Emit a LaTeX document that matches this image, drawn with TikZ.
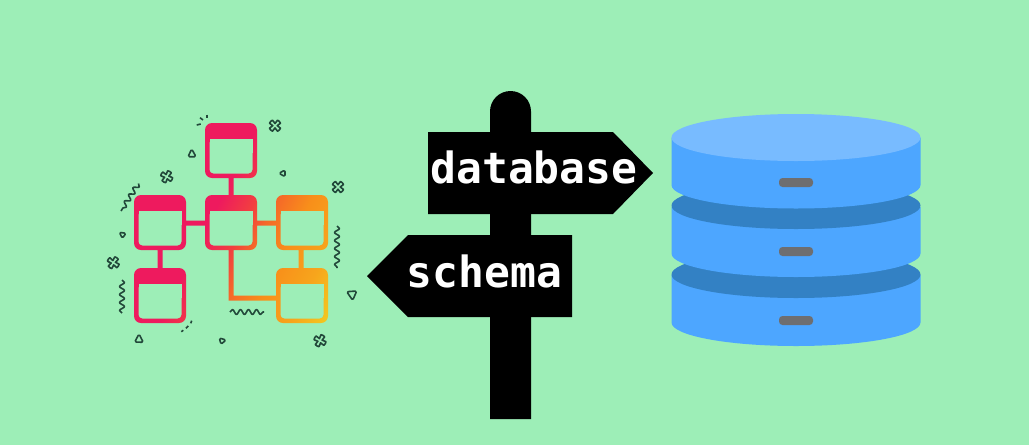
\documentclass[tikz,border=0pt]{standalone}
\usepackage{fontspec}
\usetikzlibrary{decorations.pathmorphing}
\newfontfamily\signfont{DejaVu Sans Mono}
\definecolor{meadow}{RGB}{157,238,183}
\definecolor{diskpale}{RGB}{120,187,255}
\definecolor{diskside}{RGB}{77,166,255}
\definecolor{diskdark}{RGB}{51,129,196}
\definecolor{diskslot}{RGB}{110,110,112}
\definecolor{doodleink}{RGB}{34,72,58}
\definecolor{flowA}{RGB}{238,26,94}
\definecolor{flowB}{RGB}{242,64,63}
\definecolor{flowC}{RGB}{245,106,40}
\definecolor{flowD}{RGB}{248,143,26}
\definecolor{flowE}{RGB}{247,165,28}
\definecolor{flowF}{RGB}{242,200,32}
% 25bp = 200, 75bp = 500 along the slant
\pgfdeclarehorizontalshading{flowslant}{100bp}{color(0bp)=(flowA); color(45bp)=(flowA); color(51bp)=(flowB); color(54.7bp)=(flowC); color(60.2bp)=(flowD); color(67bp)=(flowE); color(73bp)=(flowF); color(100bp)=(flowF)}
\tikzset{
	doodle/.style={draw=doodleink, line width=1.6pt, line join=round},
	squiggle/.style={doodle, decorate, decoration={snake, amplitude=2.5pt, segment length=8pt}},
	signtext/.style={text=white, font=\signfont\bfseries\fontsize{43pt}{44pt}\selectfont, inner sep=0pt, anchor=base}
}
\def\doodlecross(#1)(#2){\draw[doodle, shift={(#1)}, rotate=#2] plot[smooth cycle] coordinates {(2.2,0) (5.5,2.5) (2.5,5.5) (0,2.2) (-2.5,5.5) (-5.5,2.5) (-2.2,0) (-5.5,-2.5) (-2.5,-5.5) (0,-2.2) (2.5,-5.5) (5.5,-2.5)};}
\def\doodletri(#1)(#2)(#3){\draw[doodle, rounded corners=1.5pt] (#1) -- (#2) -- (#3) -- cycle;}
\def\disklayer(#1)(#2){\fill[diskside] (671.5, #1) -- (671.5, #2) arc[start angle=180, end angle=360, x radius=124.5pt, y radius=23.5pt] -- (920.5, #1) -- cycle;}

\begin{document}
\begin{tikzpicture}[x=1pt, y=-1pt]
	%%%%% START %%%%%
	
	\useasboundingbox (0, 0) rectangle (1029, 445);
	\fill[meadow] (0, 0) rectangle (1029, 445);
	
	\fill (490, 419) -- (490, 111.5) arc[start angle=180, end angle=0, radius=20.5pt] -- (531, 419) -- cycle;
	\fill (428, 132) -- (613, 132) -- (653, 173) -- (613, 214) -- (428, 214) -- cycle;
	\fill (572, 235) -- (408, 235) -- (367, 276) -- (408, 317) -- (572, 317) -- cycle;
	\node[signtext] (dbword) at (534, 183) {database};
	\node[signtext] (schemaword) at (484.5, 287) {schema};
	
	\disklayer(275)(322.5)
	\fill[diskdark] (796, 274.5) ellipse [x radius=124.5pt, y radius=23.5pt];
	\disklayer(207)(253.5)
	\fill[diskdark] (796, 205.5) ellipse [x radius=124.5pt, y radius=23.5pt];
	\disklayer(137.5)(185)
	\fill[diskpale] (796, 137.5) ellipse [x radius=124.5pt, y radius=23.5pt];
	\foreach \slot in {182.5, 251.5, 320.5} {
		\fill[diskslot, rounded corners=3.5pt] (779, \slot-4.5) rectangle (813, \slot+4.5);
	}
	
	\begin{scope}
		\clip[rounded corners=7pt]
			(205, 123) rectangle (257, 178)
			(134, 195) rectangle (186, 250)
			(205, 195) rectangle (257, 250)
			(276, 195) rectangle (328, 250)
			(134, 268) rectangle (186, 323)
			(276, 268) rectangle (328, 323)
			[sharp corners]
			(228.5, 170) rectangle (233.5, 200)
			(180, 220.5) rectangle (210, 225.5)
			(250, 220.5) rectangle (282, 225.5)
			(157.5, 245) rectangle (162.5, 272)
			(298.5, 245) rectangle (303.5, 272)
			(228.5, 245) rectangle (233.5, 300.5)
			(228.5, 295.5) rectangle (280, 300.5);
		\shade[shading=flowslant, transform canvas={rotate around={-26.57:(200, 200)}}] (110.6, -200) rectangle (378.9, 600);
	\end{scope}
	\foreach \bx/\by in {205/123, 134/195, 205/195, 276/195, 134/268, 276/268} {
		\fill[meadow, rounded corners=4pt] (\bx+4.5, \by+16) rectangle (\bx+47.5, \by+50.5);
		\fill[meadow] (\bx+4.5, \by+16) rectangle (\bx+47.5, \by+30);
	}
	
	\draw[squiggle] (138.5, 183.5) -- (121, 211);
	\draw[squiggle] (122, 280) -- (122, 313);
	\draw[squiggle] (337, 226) -- (337, 268);
	\draw[squiggle] (230, 312) -- (264, 312);
	
	\draw[doodle] (196.7, 125) -- (200.7, 124);
	\draw[doodle] (200, 117.7) -- (203, 120);
	\draw[doodle] (207, 114.5) -- (207, 117.7);
	\draw[doodle] (191.7, 320.7) -- (190.7, 323.3);
	\draw[doodle] (188.3, 326) -- (186, 328.3);
	\draw[doodle] (183.3, 330.3) -- (181.3, 331.7);
	
	\doodletri(191.7, 149)(188, 156.7)(196, 156.7)
	\doodletri(119.3, 232.3)(126, 233.3)(122.3, 238.3)
	\doodletri(139, 334)(134.7, 342)(143.3, 342.3)
	\doodletri(219.3, 338)(226, 340)(221, 344.3)
	\doodletri(285, 170)(285, 176.7)(279, 173.3)
	\doodletri(346.7, 291.7)(356.7, 291)(352.7, 300.3)
	
	\doodlecross(166.7, 176.7)(15)
	\doodlecross(113.3, 262.7)(10)
	\doodlecross(275, 125.7)(0)
	\doodlecross(338, 187)(0)
	\doodlecross(320, 340.7)(15)
	
	%%%%% END %%%%%
\end{tikzpicture}
\end{document}
